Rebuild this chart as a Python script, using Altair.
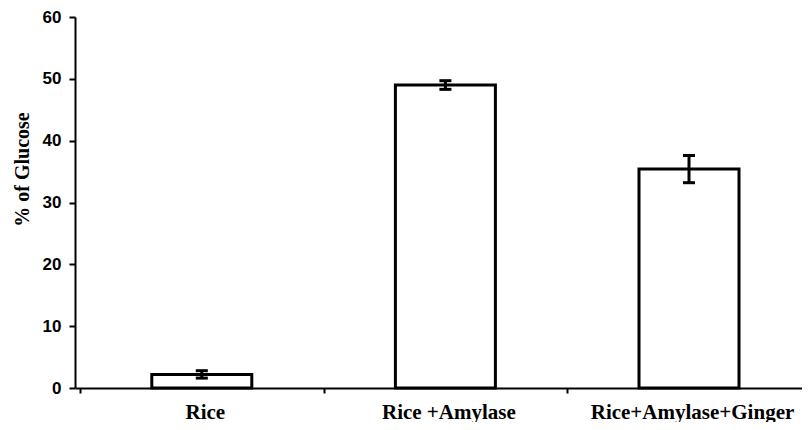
import altair as alt
import pandas as pd

categories = ["Rice", "Rice +Amylase", "Rice+Amylase+Ginger"]
glucose = [2.2, 49.0, 35.4]
errors = [0.6, 0.7, 2.2]
y_ticks = [0, 10, 20, 30, 40, 50, 60]

df = pd.DataFrame({
    "category": categories,
    "pos": [i + 0.5 for i in range(len(categories))],
    "glucose": glucose,
    "err": errors,
})
df["low"] = df["glucose"] - df["err"]
df["high"] = df["glucose"] + df["err"]

STEP = 247  # pixels per category slot

label_map = "{" + ",".join(f"'{p}':'{c}'" for p, c in zip(df["pos"], categories)) + "}"
label_expr = f"({label_map})[toString(datum.value)] || ''"
x_values = sorted(set([float(i) for i in range(len(categories))] + list(df["pos"])))

x_axis = alt.Axis(
    values=x_values,
    labelExpr=label_expr,
    title=None,
    grid=False,
    domainColor="black",
    domainWidth=2,
    tickColor="black",
    tickWidth=2,
    tickSize=5,
    tickOpacity={"condition": {"test": "datum.value % 1 === 0", "value": 1}, "value": 0},
    labelFont="Liberation Serif",
    labelFontWeight="bold",
    labelFontSize=21,
    labelColor="black",
    labelPadding=8,
    labelOffset=3,
    labelLimit=0,
    labelAngle=0,
)

y_axis = alt.Axis(
    values=y_ticks,
    title="% of Glucose",
    titleFont="Liberation Serif",
    titleFontWeight="bold",
    titleFontSize=20,
    titleColor="black",
    titleY=152,
    titleAlign="center",
    titlePadding=10,
    grid=False,
    domainColor="black",
    domainWidth=2,
    tickColor="black",
    tickWidth=2,
    tickSize=6,
    labelFont="Liberation Sans",
    labelFontWeight="bold",
    labelFontSize=17,
    labelColor="black",
    labelPadding=8,
)

x_enc = alt.X(
    "pos:Q",
    scale=alt.Scale(domain=[0, alt.ExprRef(f"width/{STEP}")], nice=False, zero=False),
    axis=x_axis,
)
y_scale = alt.Scale(domain=[0, 60], nice=False)

base = alt.Chart(df)

bars = base.mark_bar(orient="vertical", size=100, fill="white", stroke="black", strokeWidth=3).encode(
    x=x_enc,
    y=alt.Y("glucose:Q", scale=y_scale, axis=y_axis),
)

stems = base.mark_rule(color="black", strokeWidth=3).encode(
    x="pos:Q",
    y="low:Q",
    y2="high:Q",
)

caps_low = base.mark_tick(orient="horizontal", size=12, thickness=3, color="black", opacity=1).encode(
    x="pos:Q",
    y="low:Q",
)
caps_high = base.mark_tick(orient="horizontal", size=12, thickness=3, color="black", opacity=1).encode(
    x="pos:Q",
    y="high:Q",
)

chart = alt.layer(bars, stems, caps_low, caps_high).properties(
    width=794,
    height=414,
    autosize=alt.AutoSizeParams(type="fit", contains="padding"),
    padding={"left": 4, "top": 0, "right": 0, "bottom": 0},
    background="white",
).configure_view(stroke=None)

chart.save("out.html", embed_options={"renderer": "svg", "actions": False})
